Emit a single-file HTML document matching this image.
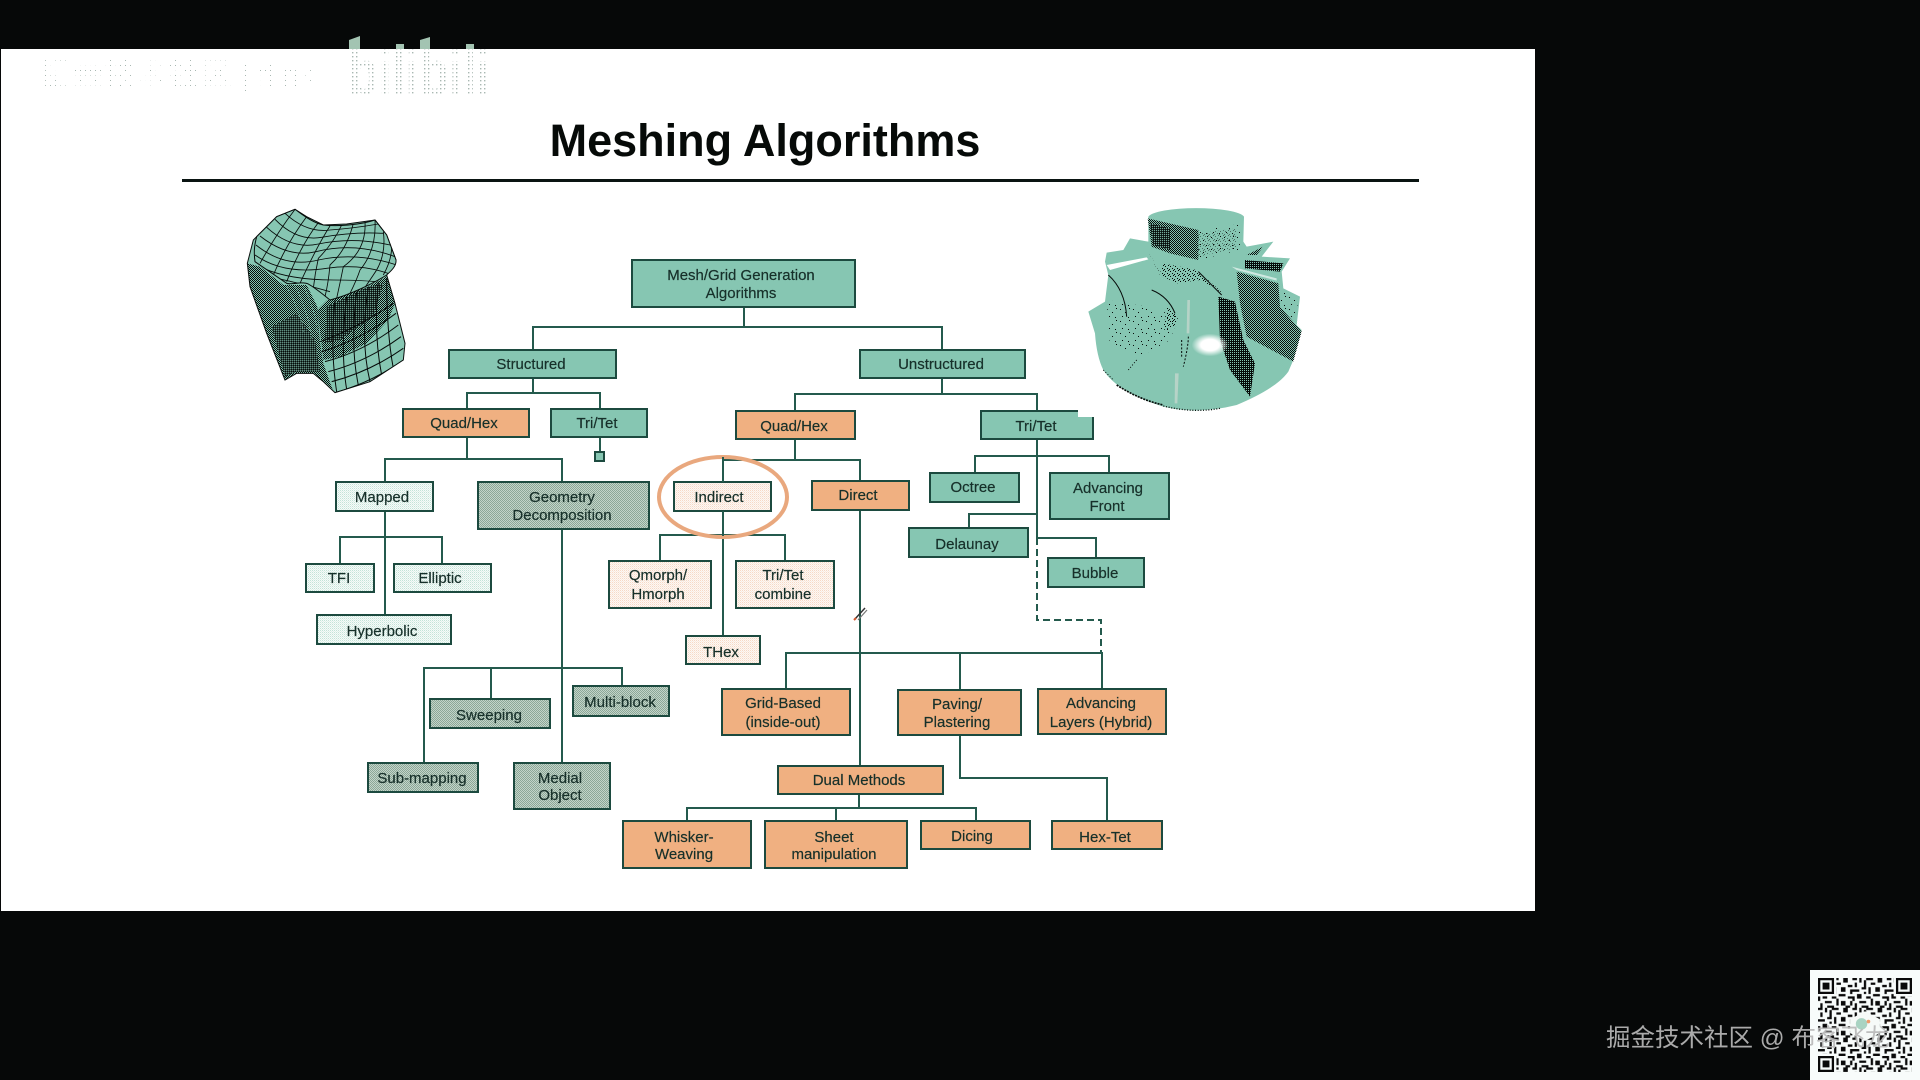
<!DOCTYPE html>
<html><head><meta charset="utf-8"><title>Meshing Algorithms</title>
<style>
html,body{margin:0;padding:0;width:1920px;height:1080px;background:#060808;overflow:hidden}
svg{position:absolute;left:0;top:0}
.b{stroke:#1c4a3f;stroke-width:2}
.tl{fill:#86c6b2}.o{fill:#f0b081}.g{fill:url(#gg)}.lt{fill:url(#lt)}.lo{fill:url(#lo)}
.c{fill:none;stroke:#245a4d;stroke-width:2}
text.x{font-family:"Liberation Sans",sans-serif;font-size:15px;fill:#17302a;text-anchor:middle;stroke:#17302a;stroke-width:.2}
</style></head><body>
<svg width="1920" height="1080" viewBox="0 0 1920 1080" xmlns="http://www.w3.org/2000/svg">
<defs>
<pattern id="gg" width="2" height="2" patternUnits="userSpaceOnUse"><rect width="2" height="2" fill="#c3d4c9"/><rect width="1" height="1" fill="#8ba797"/><rect x="1" y="1" width="1" height="1" fill="#8ba797"/></pattern>
<pattern id="lt" width="2" height="2" patternUnits="userSpaceOnUse"><rect width="2" height="2" fill="#f6fbf9"/><rect width="1" height="1" fill="#c4e3d8"/><rect x="1" y="1" width="1" height="1" fill="#e0f0ea"/></pattern>
<pattern id="lo" width="2" height="2" patternUnits="userSpaceOnUse"><rect width="2" height="2" fill="#fdf8f4"/><rect width="1" height="1" fill="#f6d9c6"/><rect x="1" y="1" width="1" height="1" fill="#faeadf"/></pattern>
<pattern id="wm" width="5" height="5" patternUnits="userSpaceOnUse"><rect width="1" height="1" fill="#a9b8b2"/></pattern>
<pattern id="wb" width="4" height="4" patternUnits="userSpaceOnUse"><rect width="1.4" height="1.4" fill="#a9b8b2"/></pattern>
<pattern id="dk" width="6" height="6" patternUnits="userSpaceOnUse"><rect width="3" height="3" fill="#050a08"/><rect x="3" y="3" width="3" height="3" fill="#050a08"/></pattern>
<pattern id="dh" width="6" height="6" patternUnits="userSpaceOnUse"><rect width="6" height="6" fill="#050a08"/><rect width="3" height="3" fill="#86c6b2"/></pattern>
<pattern id="sp" width="39" height="36" patternUnits="userSpaceOnUse"><rect x="3" y="3" width="3" height="3" fill="#050a08"/><rect x="18" y="12" width="3" height="3" fill="#050a08"/><rect x="30" y="0" width="3" height="3" fill="#050a08"/><rect x="9" y="24" width="3" height="3" fill="#050a08"/><rect x="27" y="27" width="3" height="3" fill="#050a08"/></pattern>
<pattern id="sd" width="15" height="15" patternUnits="userSpaceOnUse"><rect x="0" y="3" width="3" height="3" fill="#050a08"/><rect x="9" y="0" width="3" height="3" fill="#050a08"/><rect x="6" y="9" width="3" height="3" fill="#050a08"/><rect x="12" y="12" width="3" height="3" fill="#050a08"/></pattern>
<pattern id="qr" width="15" height="13" patternUnits="userSpaceOnUse"><path fill="#0a0a0a" d="M0 0h2v1H0zM3 0h1v2H3zM6 0h3v1H6zM11 0h2v2h-2zM1 2h1v2H1zM5 1h1v3H5zM8 2h2v1H8zM13 3h2v1h-2zM0 5h3v1H0zM4 4h2v1H4zM7 4h1v3H7zM10 4h2v2h-2zM14 5h1v2h-1zM2 7h2v2H2zM5 6h1v1H5zM9 7h3v1H9zM0 8h1v2H0zM6 8h2v1H6zM13 8h2v1h-2zM3 10h3v1H3zM8 9h1v3H8zM10 10h2v2h-2zM14 10h1v2h-1zM1 11h1v2H1zM4 12h3v1H4zM12 12h2v1h-2z"/></pattern>
<radialGradient id="gl"><stop offset="0" stop-color="#fff"/><stop offset=".5" stop-color="#fff"/><stop offset="1" stop-color="#fff" stop-opacity="0"/></radialGradient>
<clipPath id="top"><path d="M165 28C180 38 215 68 250 75C290 80 360 75 405 60L440 105L468 180C470 200 450 215 440 225C400 250 330 285 270 300C245 280 215 255 200 250C175 245 160 255 140 250L45 185C40 150 45 130 50 110L110 50Z"/></clipPath>
<clipPath id="body"><path d="M22 190L40 120 165 28 445 225 465 310 495 430 490 480 390 545 285 578 250 545 220 520 170 520 135 540 80 400 30 260Z"/></clipPath>
</defs>

<rect x="1" y="49" width="1534" height="862" fill="#fff"/>

<!-- watermark -->
<polygon points="349,49 349,40 360,36 360,49" fill="#a3c4b2"/>
<rect x="396" y="44" width="8" height="5" fill="#a3c4b2"/>
<polygon points="420,49 420,40 430,37 430,49" fill="#a3c4b2"/>
<rect x="466" y="44" width="8" height="5" fill="#a3c4b2"/>
<text x="40" y="86" font-family="'Liberation Sans','Noto Sans CJK SC',sans-serif" font-size="32" fill="url(#wm)">掘金技术社区 | flink</text>
<text x="348" y="94" font-family="'Liberation Sans',sans-serif" font-weight="bold" font-size="62" textLength="142" lengthAdjust="spacingAndGlyphs" fill="url(#wb)">bilibili</text>

<!-- title -->
<text x="765" y="156" text-anchor="middle" font-family="'Liberation Sans',sans-serif" font-weight="bold" font-size="45" fill="#060a08">Meshing Algorithms</text>
<rect x="182" y="179" width="1237" height="3" fill="#0a1412"/>

<!-- left mesh -->
<g transform="translate(240,200) scale(.33333)">
<path d="M165 28L200 50 250 75 320 72 405 60 440 105 468 180 440 225 465 310 495 430 490 480 390 545 285 578 250 545 220 520 170 520 135 540 80 400 30 260 22 190 40 120 110 50Z" fill="#86c6b2" stroke="#0a0f0d" stroke-width="3"/>
<g clip-path="url(#body)">
<path d="M22 190L60 200 130 255 200 255 232 320 240 425 250 490 280 575 220 520 170 520 135 540 80 400 30 260Z" fill="url(#dk)"/>
<path d="M232 330L262 300 380 262 442 228 465 310 445 360 380 430 300 470 250 480Z" fill="url(#dk)"/>
<path d="M260 320L380 262 430 250 400 350 300 420 255 430Z" fill="url(#dh)" opacity=".8"/>
<path d="M95 380L170 340 225 420 240 515 170 515 135 530Z" fill="url(#dh)" opacity=".7"/>
<g fill="none" stroke="#060b09" stroke-width="3">
<path d="M285 578Q400 545 490 480M275 545Q390 515 490 445M265 515Q380 485 483 410M255 485Q370 455 475 375M245 455Q360 420 468 340M240 425Q350 385 460 310"/>
<path d="M320 568Q300 450 320 290M355 555Q330 440 350 275M390 545Q360 420 385 262M425 525Q400 400 415 245M460 505Q440 400 440 235M290 575Q270 450 285 300"/>
</g>
<g fill="none" stroke="#86c6b2" stroke-width="2.5" stroke-dasharray="5 5" opacity=".8">
<path d="M140 260Q185 340 190 400M165 258Q205 330 215 420M190 258Q225 320 232 400"/>
</g>
</g>
<path d="M165 28C180 38 215 68 250 75C290 80 360 75 405 60L440 105L468 180C470 200 450 215 440 225C400 250 330 285 270 300C245 280 215 255 200 250C175 245 160 255 140 250L45 185C40 150 45 130 50 110L110 50Z" fill="#86c6b2" stroke="#060b09" stroke-width="3"/>
<g clip-path="url(#top)" fill="none" stroke="#060b09" stroke-width="2.6">
<path d="M135 40Q200 100 270 90Q340 85 415 72M105 58Q170 125 245 112Q340 95 430 100M80 82Q155 150 235 132Q340 110 450 135M60 108Q145 175 228 155Q345 125 465 170M48 135Q135 205 235 180Q350 155 470 195M45 165Q130 225 260 205Q360 190 450 222M70 205Q150 240 280 240Q350 240 410 245M110 235Q180 250 270 275"/>
<path d="M165 28Q110 100 60 190M200 50Q140 130 100 225M235 68Q180 140 140 245M270 78Q230 140 180 250M305 75Q280 130 235 175Q225 220 220 265M340 70Q320 150 270 195Q265 250 255 290M375 65Q380 150 310 200Q300 250 290 295M405 60Q410 150 360 210Q350 240 330 280M430 95Q440 170 400 225Q390 240 375 262M455 140Q455 180 430 225"/>
</g>
</g>

<!-- right impeller -->
<g transform="translate(1080,200) scale(.33333)">
<path d="M80 158L130 150 150 115 205 125 205 50A145 30 0 0 1 492 50L490 125 500 140 580 125 545 170 630 175 605 215 610 265 660 290 650 375 665 390 640 480 625 515Q590 565 470 615Q350 645 250 620Q110 575 70 510Q50 470 45 400L25 335 75 305 85 225 75 185Z" fill="#86c6b2"/>
<path d="M203 55L355 90 355 180 270 160 215 140Z" fill="url(#dk)"/>
<path d="M210 70L270 85 270 150 220 135Z" fill="url(#dh)" opacity=".85"/>
<path d="M355 90L480 72 480 150 355 180Z" fill="url(#sp)"/>
<path d="M355 100L470 85 470 145 355 170Z" fill="url(#sd)" opacity=".45"/>
<path d="M415 290L465 305 490 420 525 490 510 590 450 510 420 420Z" fill="url(#dh)"/>
<path d="M470 215L595 250 600 320 665 395 640 485 500 410 480 310Z" fill="url(#dk)"/>
<path d="M495 180L610 190 600 215 495 205Z" fill="url(#dh)"/>
<path d="M500 165L550 140 530 165Z" fill="url(#dk)"/>
<path d="M205 155L240 220 250 190 350 210 430 280 360 240 290 250 240 225Z" fill="url(#sd)"/>
<path d="M600 270L655 295 645 370 600 320Z" fill="url(#sp)"/>
<path d="M80 300L200 320 295 350 270 420 180 470 90 440Z" fill="url(#sp)"/>
<path d="M260 320L295 350 285 380 250 390Z" fill="url(#sd)"/>
<path d="M80 195L200 172 205 178 90 210Z" fill="#fff"/>
<path d="M455 200L590 235 590 242 470 210Z" fill="#fff" opacity=".6"/>
<ellipse cx="390" cy="435" rx="55" ry="34" fill="url(#gl)"/>
<path d="M322 300L330 300 328 400 320 400ZM285 520L296 520 292 610 284 610Z" fill="#d7dcd5" opacity=".6"/>
<g fill="none" stroke="#060b09" stroke-width="3">
<path d="M85 225Q135 270 140 350M215 270Q265 290 285 340M355 215Q390 250 425 285"/>
<path d="M305 420L305 470M325 410Q325 440 310 500" stroke-dasharray="6 5"/>
<path d="M110 555Q180 600 250 615" stroke-dasharray="6 3" stroke-width="5"/>
<path d="M250 618Q340 640 420 625" stroke-dasharray="3 5" stroke-width="4"/>
<path d="M70 510L100 540M170 480L145 510" stroke-dasharray="3 6"/>
</g>
</g>

<!-- connectors -->
<path class="c" d="M744 307V327M533 350V327H942V350M533 378V393M467 409V393H600V409M600 437V452M467 437V459M385 482V459H562V482"/>
<path class="c" d="M385 511V615M340 564V537H442V564M562 529V763M424 763V668H622V686M491 668V699"/>
<path class="c" d="M942 378V394M795 411V394H1037V411M795 439V460M723 482V460H860V481M723 511V636M660 561V535H785V561"/>
<path class="c" d="M860 510V766M786 689V653H1102V689M960 653V690M960 735V778H1107V821M859 794V808M687 821V808H976V821M836 808V821"/>
<path class="c" d="M1037 439V538M975 473V456H1109V473M1037 514H969V528M1037 538H1096V558"/>
<path class="c" stroke-dasharray="7 4" d="M1037 538V620H1101V653"/>
<rect x="595" y="452" width="9" height="9" fill="#86c6b2" stroke="#1c4a3f" stroke-width="2"/>

<g class="b">
<rect class="tl" x="632" y="260" width="223" height="47"/>
<rect class="tl" x="449" y="350" width="167" height="28"/>
<rect class="tl" x="860" y="350" width="165" height="28"/>
<rect class="tl" x="551" y="409" width="96" height="28"/>
<path class="tl" stroke="none" d="M981 411H1078V417H1093V439H981Z"/>
<path fill="none" d="M1078 411H981V439H1093V417"/>
<rect class="tl" x="930" y="473" width="89" height="29"/>
<rect class="tl" x="1050" y="473" width="119" height="46"/>
<rect class="tl" x="909" y="528" width="119" height="29"/>
<rect class="tl" x="1048" y="558" width="96" height="29"/>
<rect class="o" x="403" y="409" width="126" height="28"/>
<rect class="o" x="736" y="411" width="119" height="28"/>
<rect class="o" x="812" y="481" width="97" height="29"/>
<rect class="o" x="722" y="689" width="128" height="46"/>
<rect class="o" x="898" y="690" width="123" height="45"/>
<rect class="o" x="1038" y="689" width="128" height="45"/>
<rect class="o" x="778" y="766" width="165" height="28"/>
<rect class="o" x="623" y="821" width="128" height="47"/>
<rect class="o" x="765" y="821" width="142" height="47"/>
<rect class="o" x="921" y="821" width="109" height="28"/>
<rect class="o" x="1052" y="821" width="110" height="28"/>
<rect class="g" x="478" y="482" width="171" height="47"/>
<rect class="g" x="430" y="699" width="120" height="29"/>
<rect class="g" x="573" y="686" width="96" height="30"/>
<rect class="g" x="368" y="763" width="110" height="29"/>
<rect class="g" x="514" y="763" width="96" height="46"/>
<rect class="lt" x="336" y="482" width="97" height="29"/>
<rect class="lt" x="306" y="564" width="68" height="28"/>
<rect class="lt" x="394" y="564" width="97" height="28"/>
<rect class="lt" x="317" y="615" width="134" height="29"/>
<rect class="lo" x="674" y="482" width="97" height="29"/>
<rect class="lo" x="609" y="561" width="102" height="47"/>
<rect class="lo" x="736" y="561" width="98" height="47"/>
<rect class="lo" x="686" y="636" width="74" height="28"/>
</g>

<ellipse cx="723" cy="497" rx="64" ry="40" fill="none" stroke="#e9a87e" stroke-width="4"/>
<path d="M723 457V482M723 511V536" stroke="#245a4d" stroke-width="2" fill="none"/>

<path d="M855 619L865 608" stroke="#333" stroke-width="1.5"/><path d="M858 620L867 610" stroke="#777" stroke-width="1.2"/><path d="M854 620l2-2" stroke="#d0552b" stroke-width="2"/>

<text class="x" x="741" y="280">Mesh/Grid Generation</text>
<text class="x" x="741" y="298">Algorithms</text>
<text class="x" x="531" y="369">Structured</text>
<text class="x" x="941" y="369">Unstructured</text>
<text class="x" x="464" y="428">Quad/Hex</text>
<text class="x" x="597" y="428">Tri/Tet</text>
<text class="x" x="794" y="431">Quad/Hex</text>
<text class="x" x="1036" y="431">Tri/Tet</text>
<text class="x" x="382" y="502">Mapped</text>
<text class="x" x="562" y="502">Geometry</text>
<text class="x" x="562" y="520">Decomposition</text>
<text class="x" x="719" y="502">Indirect</text>
<text class="x" x="858" y="500">Direct</text>
<text class="x" x="973" y="492">Octree</text>
<text class="x" x="1108" y="493">Advancing</text>
<text class="x" x="1107" y="511">Front</text>
<text class="x" x="967" y="549">Delaunay</text>
<text class="x" x="1095" y="578">Bubble</text>
<text class="x" x="339" y="583">TFI</text>
<text class="x" x="440" y="583">Elliptic</text>
<text class="x" x="382" y="636">Hyperbolic</text>
<text class="x" x="658" y="580">Qmorph/</text>
<text class="x" x="658" y="599">Hmorph</text>
<text class="x" x="783" y="580">Tri/Tet</text>
<text class="x" x="783" y="599">combine</text>
<text class="x" x="721" y="657">THex</text>
<text class="x" x="489" y="720">Sweeping</text>
<text class="x" x="620" y="707">Multi-block</text>
<text class="x" x="422" y="783">Sub-mapping</text>
<text class="x" x="560" y="783">Medial</text>
<text class="x" x="560" y="800">Object</text>
<text class="x" x="783" y="708">Grid-Based</text>
<text class="x" x="783" y="727">(inside-out)</text>
<text class="x" x="957" y="709">Paving/</text>
<text class="x" x="957" y="727">Plastering</text>
<text class="x" x="1101" y="708">Advancing</text>
<text class="x" x="1101" y="727">Layers (Hybrid)</text>
<text class="x" x="859" y="785">Dual Methods</text>
<text class="x" x="684" y="842">Whisker-</text>
<text class="x" x="684" y="859">Weaving</text>
<text class="x" x="834" y="842">Sheet</text>
<text class="x" x="834" y="859">manipulation</text>
<text class="x" x="972" y="841">Dicing</text>
<text class="x" x="1105" y="842">Hex-Tet</text>

<rect x="1810" y="970" width="110" height="110" fill="#f8fcfb"/>
<svg x="1818" y="978" width="94" height="94" viewBox="0 0 41 41">
<rect width="41" height="41" fill="url(#qr)"/>
<path fill="#f8fcfb" d="M0 0h8v8H0zM33 0h8v8h-8zM0 33h8v8H0z"/>
<path fill="#0a0a0a" fill-rule="evenodd" d="M0 0h7v7H0zM1 1v5h5V1zM2 2h3v3H2zM34 0h7v7h-7zM35 1v5h5V1zM36 2h3v3h-3zM0 34h7v7H0zM1 35v5h5v-5zM2 36h3v3H2z"/>
<path fill="#f6faf8" d="M20.5 14.5L27 18V24L20.500 27.500 14 24V18Z"/>
<circle cx="19" cy="20" r="2.500" fill="#a9d3c2"/><circle cx="22" cy="19" r=".8" fill="#ee9a6b"/>
</svg>
<text x="1606" y="1046" font-family="'Liberation Sans','Noto Sans CJK SC',sans-serif" font-size="24.500" fill="#b9b9b9" fill-opacity=".92">掘金技术社区 @ 布客飞龙</text>
</svg>
</body></html>
